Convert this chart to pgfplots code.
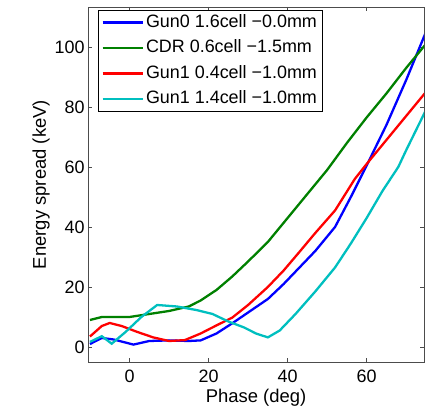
\documentclass[border=0pt]{standalone}
\usepackage{fontspec}
\setmainfont{Liberation Sans}
\usepackage{pgfplots}
\pgfplotsset{compat=1.18}
\definecolor{mgreen}{rgb}{0,0.5,0}
\definecolor{mcyan}{rgb}{0,0.75,0.75}
\begin{document}
\begin{tikzpicture}
\begin{axis}[
  scale only axis, width=336bp, height=355bp,
  xmin=-10.5, xmax=74.5, ymin=-5, ymax=113.3,
  xtick={0,20,40,60}, ytick={0,20,40,60,80,100},
  tick align=inside, major tick length=4bp,
  axis line style={draw=black!70, line width=0.8pt},
  tick style={draw=black!70, line width=0.6pt},
  /pgf/number format/assume math mode=true,
  tick label style={font=\fontsize{18}{20}\selectfont},
  xticklabel style={yshift=-4bp},
  label style={font=\fontsize{18.5}{20}\selectfont},
  xlabel={Phase (deg)}, ylabel={Energy spread (keV)},
  xlabel style={yshift=0bp},
  ylabel style={yshift=-2bp},
  legend style={font=\fontsize{18}{20}\selectfont, at={(0.0298,0.9915)}, anchor=north west, draw=black, line width=0.8pt, inner xsep=3bp, inner ysep=1.5bp, row sep=4bp, nodes={inner sep=2bp, text height=13.5bp, text depth=4bp}},
  legend cell align=left,
  legend image code/.code={\draw[#1, line width=2.6pt] (0bp,0bp) -- (40bp,0bp);},
]
\addplot[blue, line width=2.3pt] coordinates {(-10,1)(-7,3)(-4,2.5)(1,0.8)(5,2)(10,2.2)(15,2)(18,2.2)(22,4.5)(26,7.9)(30,11.5)(35,16)(39,21)(43,26.5)(47,32)(52,40)(56,50)(60,60.5)(65,74)(70,89)(75,105)};
\addlegendentry{Gun0 1.6cell −0.0mm}
\addplot[mgreen, line width=2.3pt] coordinates {(-10,9)(-7,10)(0,10)(5,11)(10,12)(15,13.5)(18,15.5)(22,19)(26,23.5)(30,28.5)(35,35)(40,43)(45,51)(50,59)(55,68)(60,76.5)(65,84.5)(70,93)(75,101)};
\addlegendentry{CDR 0.6cell −1.5mm}
\addplot[red, line width=2.3pt] coordinates {(-10,3.5)(-7,7)(-5,8)(-2,7)(2,5)(6,3.2)(10,2)(14,2.3)(18,4.5)(22,7.2)(26,9.8)(30,14)(35,20)(39,25.5)(43,31.7)(47,38)(52,45.5)(57,56)(60,61)(65,69)(70,77)(75,85)};
\addlegendentry{Gun1 0.4cell −1.0mm}
\addplot[mcyan, line width=2.3pt] coordinates {(-10,1.7)(-7,3.6)(-4.5,1.1)(-1,5)(3,10)(7,14)(12,13.5)(17,12.3)(21,11)(25,8.5)(29,6.5)(32,4.5)(35,3.2)(38,5.5)(42,11)(47,18.5)(52,26.5)(56,34.5)(60,43)(64,52)(68,60)(70,65.6)(75,79)};
\addlegendentry{Gun1 1.4cell −1.0mm}
\end{axis}
\path (current axis.south west) ++(-88bp,-46bp) coordinate (a);
\path (current axis.north east) ++(3bp,7bp) coordinate (b);
\pgfresetboundingbox
\path[use as bounding box] (a) rectangle (b);
\end{tikzpicture}
\end{document}
